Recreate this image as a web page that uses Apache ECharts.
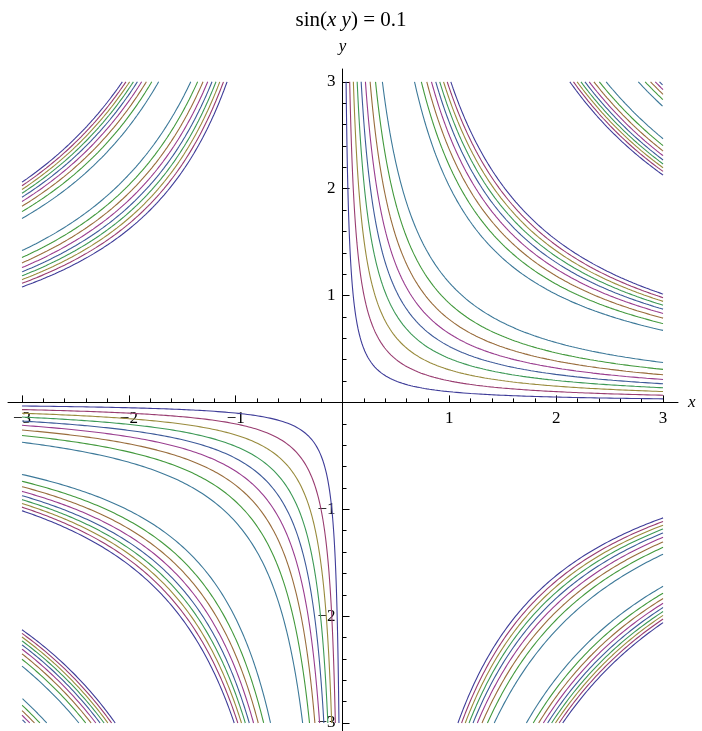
<!DOCTYPE html>
<html>
<head>
<meta charset="utf-8">
<script src="https://cdn.jsdelivr.net/npm/echarts@6/dist/echarts.min.js"></script>
<style>html,body{margin:0;padding:0;background:#fff}#c{width:702px;height:731px}</style>
</head>
<body>
<div id="c"></div>
<script>
// contour levels c in sin(x y) = c
var levels = [0.1, 0.2, 0.3, 0.4, 0.5, 0.6, 0.7, 0.8, 0.9];
var levelColors = ['#3F3D99', '#993D71', '#998B3D', '#3D9956', '#3D5A99', '#993D8F', '#996D3D', '#43993D', '#3D7999'];
var majorTicks = [-3, -2, -1, 1, 2, 3];
var minorTicks = [];
for (var m = -30; m <= 30; m += 2) { if (m % 10 !== 0) minorTicks.push(m / 10); }
var plotMin = -3, plotMax = 3;

var FONT = '"Liberation Serif", "Times New Roman", serif';

// branches of x*y for sin(xy)=c
function branchProducts(c) {
  var a = Math.asin(c), P = Math.PI, lim = plotMax * plotMax;
  var pos = [a, P - a, 2 * P + a, 3 * P - a, 4 * P + a];
  var neg = [P + a, 2 * P - a, 3 * P + a, 4 * P - a];
  return {
    pos: pos.filter(function (k) { return k <= lim; }),
    neg: neg.filter(function (k) { return k <= lim; })
  };
}

function curve(k, sx, sy) {
  var x0 = k / plotMax, pts = [], N = 300;
  for (var i = 0; i <= N; i++) {
    var x = x0 * Math.pow(plotMax / x0, i / N);
    pts.push([sx * x, sy * k / x]);
  }
  return pts;
}

var series = [];
levels.forEach(function (c, i) {
  var b = branchProducts(c);
  var col = levelColors[i];
  function add(pts) {
    series.push({
      type: 'line', data: pts, showSymbol: false, silent: true, animation: false,
      lineStyle: { color: col, width: 1.1 }, xAxisIndex: 0, yAxisIndex: 0, z: 1
    });
  }
  b.pos.forEach(function (k) { add(curve(k, 1, 1)); add(curve(k, -1, -1)); });
  b.neg.forEach(function (k) { add(curve(k, -1, 1)); add(curve(k, 1, -1)); });
});

var xMin = -3.131, xMax = 3.14, yMin = -3.075, yMax = 3.12;
var G = { left: 8, top: 69, width: 670, height: 662 };
var zeroX = G.left + (0 - xMin) / (xMax - xMin) * G.width;
var zeroY = G.top + (yMax - 0) / (yMax - yMin) * G.height;
var xOff = zeroY - (G.top + G.height);   // negative: move bottom axis up to y=0
var yOff = G.left - zeroX;               // negative: move left axis right to x=0

var axisLineStyle = { color: '#000', width: 1 };
function minus(v) { return String(v).replace('-', '\u2212'); }

var chart = echarts.init(document.getElementById('c'), null, { renderer: 'canvas' });
chart.setOption({
  animation: false,
  backgroundColor: '#fff',
  title: {
    text: '{n|sin(}{i|x y}{n|) = 0.1}',
    left: 'center', top: 5,
    textStyle: {
      fontWeight: 'normal',
      rich: {
        n: { fontFamily: FONT, fontSize: 21, fontWeight: 'normal', color: '#000' },
        i: { fontFamily: FONT, fontSize: 21, fontWeight: 'normal', fontStyle: 'italic', color: '#000' }
      }
    }
  },
  grid: { left: G.left, top: G.top, width: G.width, height: G.height, containLabel: false, outerBoundsMode: 'none' },
  xAxis: [{
    type: 'value', min: xMin, max: xMax, position: 'bottom', offset: xOff,
    name: 'x', nameLocation: 'end', nameGap: 10,
    nameTextStyle: { fontFamily: FONT, fontSize: 17, fontStyle: 'italic', color: '#000' },
    axisLine: { onZero: false, lineStyle: axisLineStyle },
    axisTick: { show: true, inside: true, length: 7, customValues: majorTicks, lineStyle: axisLineStyle },
    axisLabel: { customValues: majorTicks, formatter: minus, fontFamily: FONT, fontSize: 17, color: '#000', margin: 8 },
    splitLine: { show: false }
  }, {
    type: 'value', min: xMin, max: xMax, position: 'bottom', offset: xOff,
    axisLine: { show: false, onZero: false },
    axisTick: { show: true, inside: true, length: 4, customValues: minorTicks, lineStyle: axisLineStyle },
    axisLabel: { show: false },
    splitLine: { show: false }
  }],
  yAxis: [{
    type: 'value', min: yMin, max: yMax, position: 'left', offset: yOff,
    name: 'y', nameLocation: 'end', nameGap: 14,
    nameTextStyle: { fontFamily: FONT, fontSize: 17, fontStyle: 'italic', color: '#000', align: 'center' },
    axisLine: { onZero: false, lineStyle: axisLineStyle },
    axisTick: { show: true, inside: true, length: 7, customValues: majorTicks, lineStyle: axisLineStyle },
    axisLabel: { customValues: majorTicks, formatter: minus, fontFamily: FONT, fontSize: 17, color: '#000', margin: 7 },
    splitLine: { show: false }
  }, {
    type: 'value', min: yMin, max: yMax, position: 'left', offset: yOff,
    axisLine: { show: false, onZero: false },
    axisTick: { show: true, inside: true, length: 4, customValues: minorTicks, lineStyle: axisLineStyle },
    axisLabel: { show: false },
    splitLine: { show: false }
  }],
  series: series
});
</script>
</body>
</html>
